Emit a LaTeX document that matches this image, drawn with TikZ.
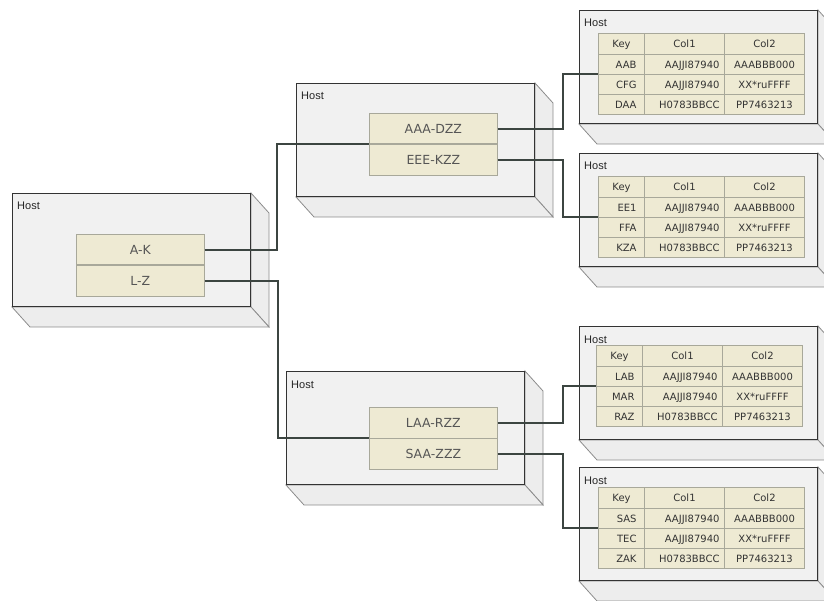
\documentclass[tikz,border=0pt]{standalone}
\usepackage{fontspec}
\newfontfamily\verdfont{DejaVu Sans}
\newfontfamily\arialfont{Liberation Sans}
\usepackage{xcolor}
\usetikzlibrary{positioning,backgrounds,matrix}

\definecolor{hostfill}{HTML}{F1F1F1}
\definecolor{sidefill}{HTML}{EDEDED}
\definecolor{frontline}{HTML}{333333}
\definecolor{sideline}{HTML}{8C8C8C}
\definecolor{cellfill}{HTML}{EEEAD3}
\definecolor{cellline}{HTML}{A8A89A}
\definecolor{rangetext}{HTML}{555555}
\definecolor{celltext}{HTML}{333333}
\definecolor{wirecol}{HTML}{3C4541}

\begin{document}
\begin{tikzpicture}[x=1pt, y=-1pt,
  host/.style={draw=frontline, line width=1pt, fill=hostfill, anchor=north west,
    minimum width=238pt, minimum height=113pt, inner sep=0pt},
  side/.style={draw=sideline, line width=0.8pt, fill=sidefill},
  hostlbl/.style={anchor=base west, inner sep=0pt,
    font=\arialfont\fontsize{11pt}{13pt}\selectfont, text=black!85},
  keyrange/.style={draw=cellline, line width=0.7pt, fill=cellfill, minimum width=128pt,
    minimum height=30.5pt, inner sep=0pt,
    font=\verdfont\fontsize{12.5pt}{15pt}\selectfont, text=rangetext},
  tbl/.style={matrix of nodes, inner sep=0pt, anchor=north west,
    row sep=-0.6pt, column sep=-0.6pt,
    nodes={draw=cellline, line width=0.6pt, fill=cellfill, inner ysep=0pt,
      minimum height=20pt, text height=7.3pt, text depth=0pt,
      font=\verdfont\fontsize{10pt}{12pt}\selectfont, text=celltext},
    column 1/.style={nodes={text width=30pt, inner xsep=8pt, align=right}},
    column 2/.style={nodes={text width=70pt, inner xsep=5pt, align=right}},
    column 3/.style={nodes={text width=70pt, inner xsep=5pt, align=center}},
    row 1/.style={nodes={minimum height=21pt, align=center}}},
  wire/.style={draw=wirecol, line width=2pt}
]
\useasboundingbox (0,0) rectangle (824,601);

% hosts
\node[host] (lh) at (12,193) {};
\node[host] (m1) at (296,83) {};
\node[host] (m2) at (286,371) {};
\node[host] (r1) at (579,10) {};
\node[host] (r2) at (579,153) {};
\node[host] (r3) at (579,326) {};
\node[host] (r4) at (579,467) {};

\begin{scope}[on background layer]
\foreach \h in {lh,m1,m2,r1,r2,r3,r4}{
  \filldraw[side] (\h.north east) -- ++(18,20) -- ([shift={(18,20)}]\h.south east)
    -- (\h.south east) -- cycle;
  \filldraw[side] (\h.south west) -- ++(18,20) -- ([shift={(18,20)}]\h.south east)
    -- (\h.south east) -- cycle;
}
\end{scope}

\node[hostlbl] (lhl) at ([shift={(5,17)}]lh.north west) {Host};
\node[hostlbl] (m1l) at ([shift={(5,17)}]m1.north west) {Host};
\node[hostlbl] (m2l) at ([shift={(5,17)}]m2.north west) {Host};
\node[hostlbl] (r1l) at ([shift={(5,17)}]r1.north west) {Host};
\node[hostlbl] (r2l) at ([shift={(5,17)}]r2.north west) {Host};
\node[hostlbl] (r3l) at ([shift={(5,17)}]r3.north west) {Host};
\node[hostlbl] (r4l) at ([shift={(5,17)}]r4.north west) {Host};

% key ranges
\node[keyrange, anchor=north west] (ak) at (76,234) {A-K};
\node[keyrange, below=0pt of ak] (lz) {L-Z};

\node[keyrange, anchor=north west] (aaa) at (369,113) {AAA-DZZ};
\node[keyrange, below=0pt of aaa] (eee) {EEE-KZZ};

\node[keyrange, anchor=north west] (laa) at (369,407) {LAA-RZZ};
\node[keyrange, below=0pt of laa] (saa) {SAA-ZZZ};

% tables
\matrix[tbl] (r1tab) at (598,33) {
  Key & Col1 & Col2 \\
  AAB & AAJJI87940 & AAABBB000 \\
  CFG & AAJJI87940 & XX*ruFFFF \\
  DAA & H0783BBCC & PP7463213 \\
};
\matrix[tbl] (r2tab) at (598,176) {
  Key & Col1 & Col2 \\
  EE1 & AAJJI87940 & AAABBB000 \\
  FFA & AAJJI87940 & XX*ruFFFF \\
  KZA & H0783BBCC & PP7463213 \\
};
\matrix[tbl] (r3tab) at (596,345) {
  Key & Col1 & Col2 \\
  LAB & AAJJI87940 & AAABBB000 \\
  MAR & AAJJI87940 & XX*ruFFFF \\
  RAZ & H0783BBCC & PP7463213 \\
};
\matrix[tbl] (r4tab) at (598,487) {
  Key & Col1 & Col2 \\
  SAS & AAJJI87940 & AAABBB000 \\
  TEC & AAJJI87940 & XX*ruFFFF \\
  ZAK & H0783BBCC & PP7463213 \\
};

% links
\draw[wire] (ak.east) -- ++(72,0) |- (aaa.south west);
\draw[wire] (lz.east) -- ++(73,0) |- (laa.south west);
\draw[wire] (aaa.east) -- ++(65,0) |- (r1tab.west);
\draw[wire] (eee.east) -- ++(65,0) |- (r2tab.west);
\draw[wire] (laa.east) -- ++(65,0) |- (r3tab.west);
\draw[wire] (saa.east) -- ++(65,0) |- (r4tab.west);
\end{tikzpicture}
\end{document}
